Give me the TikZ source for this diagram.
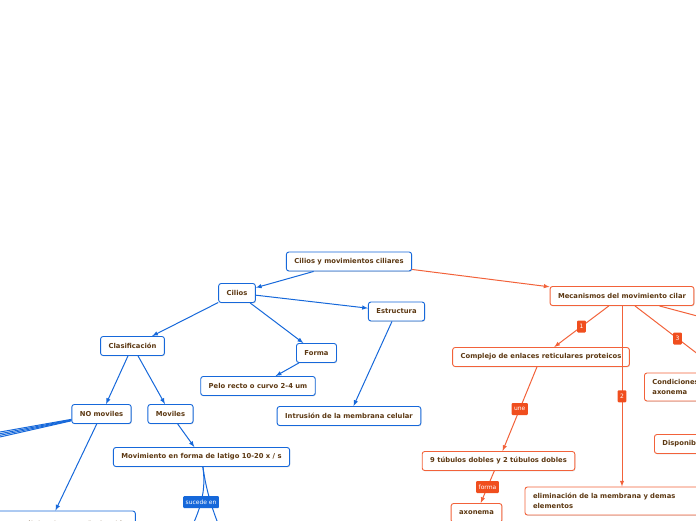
\documentclass[tikz,border=0pt]{standalone}
\usepackage{fontspec}
\setmainfont{DejaVu Sans}
\usetikzlibrary{shadows}
\definecolor{textbrown}{RGB}{92,56,18}
\definecolor{mapblue}{RGB}{22,104,218}
\definecolor{maporange}{RGB}{242,98,58}
\definecolor{tagorange}{RGB}{240,78,30}
\tikzset{
  topic/.style={
    rounded corners=2.5pt,
    draw,
    line width=0.9pt,
    fill=white,
    text=textbrown,
    font=\fontsize{6.8}{9.5}\selectfont\bfseries,
    minimum height=19pt,
    inner xsep=8pt,
    drop shadow={shadow xshift=0.6pt, shadow yshift=-0.9pt, opacity=0.25},
  },
  blue topic/.style={topic, draw=mapblue},
  orange topic/.style={topic, draw=maporange},
  blue link/.style={color=mapblue, line width=1pt},
  orange link/.style={color=maporange, line width=1pt},
  tag/.style={
    rounded corners=1pt,
    text=white,
    font=\fontsize{6}{7}\selectfont,
    inner xsep=2.5pt,
    inner ysep=2pt,
    minimum height=12pt,
  },
  blue tag/.style={tag, fill=mapblue},
  orange tag/.style={tag, fill=tagorange},
}
\begin{document}
\begin{tikzpicture}[x=1pt, y=1pt]
        \useasboundingbox (0,0) rectangle (696,520);
        \clip (0,0) rectangle (696,520);

        % ends of the links that leave the page
        \coordinate (nm1) at (-200,52.5);
        \coordinate (nm2) at (-200,47.4);
        \coordinate (nm3) at (-200,42.6);
        \coordinate (nm4) at (-200,37.7);
        \coordinate (lt1) at (178,-40);
        \coordinate (lt2) at (232,-40);
        \coordinate (mc3) at (750,126);
        \coordinate (mc4) at (780,182);

        % blue branch
        \node[blue topic] (root)   at (349,258.5) {Cilios y movimientos ciliares};
        \node[blue topic] (cil)    at (237,227)   {Cilios};
        \node[blue topic] (est)    at (396.5,208.5) {Estructura};
        \node[blue topic] (forma)  at (316.5,167) {Forma};
        \node[blue topic] (pelo)   at (258,134)   {Pelo recto o curvo 2-4 um};
        \node[blue topic] (intr)   at (349,104)   {Intrusión de la membrana celular};
        \node[blue topic] (clas)   at (132.5,174) {Clasificación};
        \node[blue topic] (nomov)  at (101.5,106) {NO moviles};
        \node[blue topic] (mov)    at (170.5,106) {Moviles};
        \node[blue topic] (latigo) at (201.5,63)  {Movimiento en forma de latigo 10-20 x / s};
        \node[blue topic, minimum height=26pt] (ubic) at (49,-4) {Se ubican en células de pequeña función};

        % orange branch
        \node[orange topic] (mec)  at (622,224)   {Mecanismos del movimiento cilar};
        \node[orange topic] (comp) at (541,163)   {Complejo de enlaces reticulares proteicos};
        \node[orange topic] (tub)  at (498.5,59)  {9 túbulos dobles y 2 túbulos dobles};
        \node[orange topic] (axo)  at (476.5,7)   {axonema};
        \node[orange topic, text width=178pt, align=left, minimum height=28pt] (elim) at (622,19)
          {eliminación de la membrana y demas\\elementos};
        \node[orange topic, anchor=west, align=left, minimum height=28pt] (cond) at (644,133)
          {Condiciones del\\axonema};
        \node[orange topic, anchor=west] (disp) at (654,76) {Disponibilidad de ATP};

        \path[blue link, -latex] (root)  edge (cil);
        \path[blue link, -latex] (cil)   edge (clas);
        \path[blue link, -latex] (cil)   edge (forma);
        \path[blue link, -latex] (cil)   edge (est);
        \path[blue link, -latex] (forma) edge (pelo);
        \path[blue link, -latex] (est)   edge (intr);
        \path[blue link, -latex] (clas)  edge (nomov);
        \path[blue link, -latex] (clas)  edge (mov);
        \path[blue link, -latex] (mov)   edge (latigo);
        \path[blue link, -latex] (nomov) edge (ubic);
        \path[blue link, -latex] (nomov) edge (nm1);
        \path[blue link, -latex] (nomov) edge (nm2);
        \path[blue link, -latex] (nomov) edge (nm3);
        \path[blue link, -latex] (nomov) edge (nm4);
        \path[blue link, -latex] (latigo) edge[out=-82, in=110] (lt2);
        \path[blue link, -latex] (latigo) edge[out=-82, in=70]
          node[blue tag, pos=0.36] {sucede en} (lt1);

        \path[orange link, -latex] (root) edge (mec);
        \path[orange link, -latex] (mec)  edge node[orange tag] {1} (comp);
        \path[orange link, -latex] (mec)  edge node[orange tag] {2} (elim);
        \path[orange link, -latex] (mec)  edge node[orange tag, pos=0.37] {3} (mc3);
        \path[orange link, -latex] (mec)  edge (mc4);
        \path[orange link, -latex] (comp) edge node[orange tag] {une} (tub);
        \path[orange link, -latex] (tub)  edge node[orange tag] {forma} (axo);
\end{tikzpicture}
\end{document}
